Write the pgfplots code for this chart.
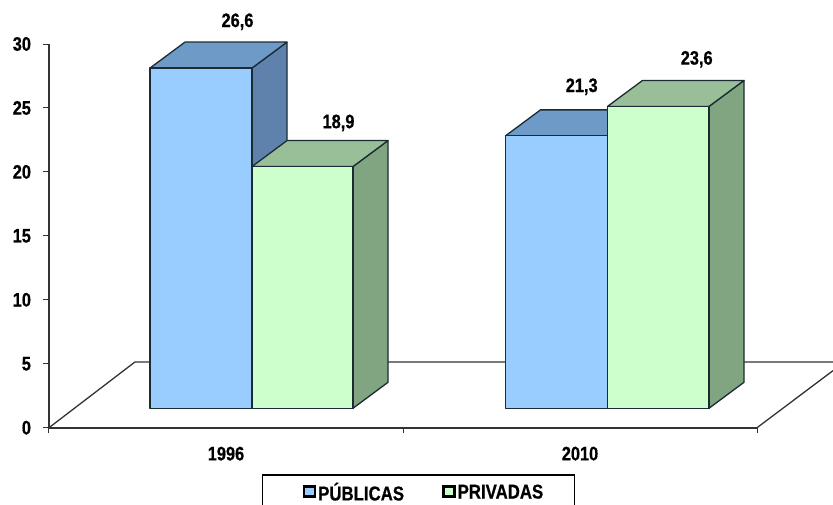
\documentclass[border=0pt]{standalone}
\usepackage{pgfplots}
\pgfplotsset{compat=1.18}
\usepackage{fontspec}
\setmainfont[FakeStretch=0.84,BoldFeatures={FakeBold=0.6}]{Liberation Sans}
\definecolor{frontB}{HTML}{99CCFF}
\definecolor{topB}{HTML}{6E9AC8}
\definecolor{sideB}{HTML}{5F82AD}
\definecolor{frontG}{HTML}{CCFFCC}
\definecolor{topG}{HTML}{98BF98}
\definecolor{sideG}{HTML}{81A481}
\definecolor{edge}{HTML}{1C2B33}
\definecolor{axl}{HTML}{333333}
% bar: x-left, x-right, value, front, top, side  (base at 1.52, depth 35 / 2.03)
\newcommand\boxbar[6]{%
  \pgfmathsetmacro\myT{#3+1.52}%
  \pgfmathsetmacro\myTT{#3+1.52+2.03}%
  \pgfmathsetmacro\myXa{#1+35}%
  \pgfmathsetmacro\myXb{#2+35}%
  \addplot[forget plot,fill=#6,draw=edge,line width=1.3pt,line join=round] coordinates {(#2,1.52) (\myXb,3.55) (\myXb,\myTT) (#2,\myT)} -- cycle;
  \addplot[forget plot,fill=#5,draw=edge,line width=1.3pt,line join=round] coordinates {(#1,\myT) (\myXa,\myTT) (\myXb,\myTT) (#2,\myT)} -- cycle;
  \addplot[forget plot,fill=#4,draw=edge,line width=1.3pt,line join=round] coordinates {(#1,1.52) (#2,1.52) (#2,\myT) (#1,\myT)} -- cycle;
}
\begin{document}
\begin{tikzpicture}[x=1pt,y=1pt]
\path[use as bounding box] (-49pt,-76.3pt) rectangle (784pt,427.7pt);
\begin{axis}[
  at={(0pt,0pt)},anchor=south west,
  scale only axis,width=708pt,height=383.7pt,
  xmin=49,xmax=757,ymin=0,ymax=30,
  axis lines=left,
  axis line style={draw=axl,line width=1.6pt,-},
  clip=false,
  font=\bfseries\fontsize{19.5}{21}\selectfont,
  /pgf/number format/assume math mode=true,
  ytick={0,5,10,15,20,25,30},
  xtick={49,403,757},
  x tick label as interval,
  xticklabels={1996,2010},
  tick style={draw=axl,line width=1pt},
  major tick length=5.5pt,tick align=outside,
  xticklabel style={yshift=-10pt},
  yticklabel style={xshift=-9pt},
  legend style={at={(axis cs:423.9,-5.05)},anchor=center,draw=none,fill=none,
    legend columns=2,
    /tikz/every even column/.append style={column sep=36pt},
    inner xsep=1pt,inner ysep=0pt,
    legend cell align=left},
]
% floor
\addplot[forget plot,draw=axl,line width=1.3pt] coordinates {(49,0) (135,5.14) (833,5.14)};
\addplot[forget plot,draw=axl,line width=1.3pt] coordinates {(757,0) (833,4.46)};
\boxbar{150}{252}{26.6}{frontB}{topB}{sideB}
\boxbar{252}{353}{18.9}{frontG}{topG}{sideG}
\boxbar{505.5}{607.5}{21.3}{frontB}{topB}{sideB}
\boxbar{607.5}{709}{23.6}{frontG}{topG}{sideG}
\node at (axis cs:237.5,31.74) {26,6};
\node at (axis cs:338.5,23.83) {18,9};
\node at (axis cs:581.7,26.66) {21,3};
\node at (axis cs:696.7,28.8) {23,6};
\draw[black,line width=1.2pt] (axis cs:262.3,-6.5) -- (axis cs:262.3,-3.70) -- (axis cs:574.3,-3.70) -- (axis cs:574.3,-6.5);
\addlegendimage{legend image code/.code={\draw[fill=frontB,draw=black,line width=2.6pt] (-4.3pt,-4.5pt) rectangle (6.7pt,6pt);}}
\addlegendentry{\bfseries\fontsize{20}{22}\selectfont PÚBLICAS}
\addlegendimage{legend image code/.code={\draw[fill=frontG,draw=black,line width=2.6pt] (-4.3pt,-4.5pt) rectangle (6.7pt,6pt);}}
\addlegendentry{\bfseries\fontsize{20}{22}\selectfont PRIVADAS}
\end{axis}
\end{tikzpicture}
\end{document}
